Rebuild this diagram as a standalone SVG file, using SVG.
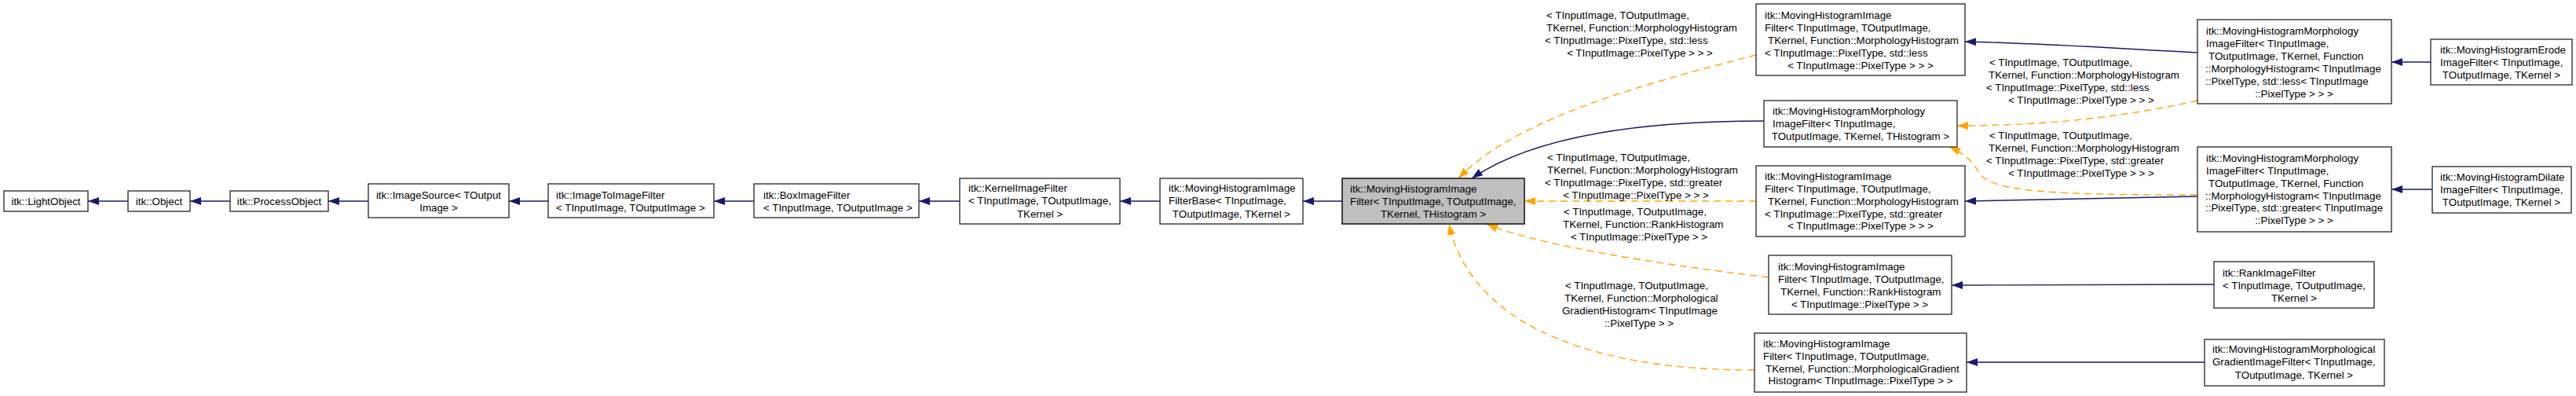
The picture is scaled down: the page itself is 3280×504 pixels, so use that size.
<svg xmlns="http://www.w3.org/2000/svg" width="3280" height="504" viewBox="0 0 3280 504">
<style>
text{font-family:"Liberation Sans",Arial,sans-serif;font-size:13.33px;fill:#000}
.m{text-anchor:middle}
.node rect{fill:#fff;stroke:#333;stroke-width:1.4}
.node.cur rect{fill:#bfbfbf;stroke:#000}
.inh{fill:none;stroke:#191970;stroke-width:1.4;marker-end:url(#ab)}
.tpl{fill:none;stroke:#ffa500;stroke-width:1.4;stroke-dasharray:9,6;marker-end:url(#ao)}
</style>
<defs>
<marker id="ab" markerUnits="userSpaceOnUse" markerWidth="14" markerHeight="10" refX="14" refY="5" orient="auto"><path d="M0,0 L14,5 L0,10 z" fill="#191970"/></marker>
<marker id="ao" markerUnits="userSpaceOnUse" markerWidth="14" markerHeight="10" refX="14" refY="5" orient="auto"><path d="M0,0 L14,5 L0,10 z" fill="#ffa500"/></marker>
</defs>
<rect width="3280" height="504" fill="#fff"/>
<g id="connectors">
<path class="inh" d="M163,256 L112,256"/>
<path class="inh" d="M293,256 L242,256"/>
<path class="inh" d="M469,256 L418,256"/>
<path class="inh" d="M698,256 L648,256"/>
<path class="inh" d="M960,256 L909,256"/>
<path class="inh" d="M1222,256 L1170,256"/>
<path class="inh" d="M1477,256 L1426,256"/>
<path class="inh" d="M1709,256 L1659,256"/>
<path class="inh" d="M2246,154 C2110,154 1960,168 1874,227"/>
<path class="tpl" d="M2236,70 C2100,105 1930,150 1857,227"/>
<path class="tpl" d="M2236,256 L1941,256"/>
<path class="tpl" d="M2252,353 C2100,335 1950,310 1893,285"/>
<path class="tpl" d="M2234,471 C2000,471 1870,400 1845,285"/>
<path class="inh" d="M2798,67 C2700,62 2600,55 2502,53"/>
<path class="tpl" d="M2798,128 C2700,150 2600,160 2492,160"/>
<path class="tpl" d="M2798,248 C2620,248 2535,245 2520,220 C2512,205 2500,195 2482,187"/>
<path class="inh" d="M2798,250 L2502,256"/>
<path class="inh" d="M2819,362 L2485,363"/>
<path class="inh" d="M2807,461 L2504,461"/>
<path class="inh" d="M3095,79 L3045,79"/>
<path class="inh" d="M3097,241 L3045,241"/>
</g>
<g id="edge-labels">
<text x="1969" y="23.5">&lt; TInputImage, TOutputImage,</text>
<text x="1969" y="39.5">TKernel, Function::MorphologyHistogram</text>
<text x="1967" y="55.5">&lt; TInputImage::PixelType, std::less</text>
<text x="2088" y="71.5" class="m">&lt; TInputImage::PixelType &gt; &gt; &gt;</text>
<text x="1970" y="204.5">&lt; TInputImage, TOutputImage,</text>
<text x="1970" y="220.5">TKernel, Function::MorphologyHistogram</text>
<text x="1967" y="236.5">&lt; TInputImage::PixelType, std::greater</text>
<text x="2083" y="252.5" class="m">&lt; TInputImage::PixelType &gt; &gt; &gt;</text>
<text x="1991" y="273.5">&lt; TInputImage, TOutputImage,</text>
<text x="1990" y="289.5">TKernel, Function::RankHistogram</text>
<text x="2087" y="305.5" class="m">&lt; TInputImage::PixelType &gt; &gt;</text>
<text x="1993" y="367.5">&lt; TInputImage, TOutputImage,</text>
<text x="1992" y="383.5">TKernel, Function::Morphological</text>
<text x="1989" y="399.5">GradientHistogram&lt; TInputImage</text>
<text x="2087" y="415.5" class="m">::PixelType &gt; &gt;</text>
<text x="2533" y="83.5">&lt; TInputImage, TOutputImage,</text>
<text x="2532" y="99.5">TKernel, Function::MorphologyHistogram</text>
<text x="2529" y="115.5">&lt; TInputImage::PixelType, std::less</text>
<text x="2650" y="131.5" class="m">&lt; TInputImage::PixelType &gt; &gt; &gt;</text>
<text x="2533" y="176.5">&lt; TInputImage, TOutputImage,</text>
<text x="2532" y="192.5">TKernel, Function::MorphologyHistogram</text>
<text x="2529" y="208.5">&lt; TInputImage::PixelType, std::greater</text>
<text x="2650" y="224.5" class="m">&lt; TInputImage::PixelType &gt; &gt; &gt;</text>
</g>
<g id="n_lightobject" class="node"><rect x="5" y="243" width="107" height="26"/><text x="58.5" y="260.5" class="m">itk::LightObject</text></g>
<g id="n_object" class="node"><rect x="163" y="243" width="79" height="26"/><text x="202.5" y="260.5" class="m">itk::Object</text></g>
<g id="n_processobject" class="node"><rect x="293" y="243" width="125" height="26"/><text x="355.5" y="260.5" class="m">itk::ProcessObject</text></g>
<g id="n_imagesource" class="node"><rect x="469" y="234" width="179" height="43"/><text x="558.5" y="252.5" class="m">itk::ImageSource&lt; TOutput</text><text x="558.5" y="268.5" class="m">Image &gt;</text></g>
<g id="n_imagetoimage" class="node"><rect x="698" y="234" width="211" height="43"/><text x="708" y="252.5">itk::ImageToImageFilter</text><text x="708" y="268.5">&lt; TInputImage, TOutputImage &gt;</text></g>
<g id="n_box" class="node"><rect x="960" y="234" width="210" height="43"/><text x="972" y="252.5">itk::BoxImageFilter</text><text x="972" y="268.5">&lt; TInputImage, TOutputImage &gt;</text></g>
<g id="n_kernel" class="node"><rect x="1222" y="227" width="204" height="58"/><text x="1233" y="243.5">itk::KernelImageFilter</text><text x="1233" y="260">&lt; TInputImage, TOutputImage,</text><text x="1324" y="276.5" class="m">TKernel &gt;</text></g>
<g id="n_mhifbase" class="node"><rect x="1477" y="227" width="182" height="58"/><text x="1488" y="243.5">itk::MovingHistogramImage</text><text x="1488" y="260">FilterBase&lt; TInputImage,</text><text x="1568" y="276.5" class="m">TOutputImage, TKernel &gt;</text></g>
<g id="n_mhif" class="node cur"><rect x="1709" y="227" width="232" height="58"/><text x="1719" y="244.5">itk::MovingHistogramImage</text><text x="1719" y="260.5">Filter&lt; TInputImage, TOutputImage,</text><text x="1825" y="276.5" class="m">TKernel, THistogram &gt;</text></g>
<g id="n_mhif_less" class="node"><rect x="2236" y="5" width="266" height="91"/><text x="2247" y="23.5">itk::MovingHistogramImage</text><text x="2247" y="39.5">Filter&lt; TInputImage, TOutputImage,</text><text x="2251" y="55.5">TKernel, Function::MorphologyHistogram</text><text x="2247" y="71.5">&lt; TInputImage::PixelType, std::less</text><text x="2369" y="87.5" class="m">&lt; TInputImage::PixelType &gt; &gt; &gt;</text></g>
<g id="n_morph" class="node"><rect x="2246" y="128" width="246" height="59"/><text x="2257" y="145.5">itk::MovingHistogramMorphology</text><text x="2257" y="161.5">ImageFilter&lt; TInputImage,</text><text x="2369" y="177.5" class="m">TOutputImage, TKernel, THistogram &gt;</text></g>
<g id="n_mhif_greater" class="node"><rect x="2236" y="211" width="266" height="90"/><text x="2247" y="228.5">itk::MovingHistogramImage</text><text x="2247" y="244.5">Filter&lt; TInputImage, TOutputImage,</text><text x="2251" y="260.5">TKernel, Function::MorphologyHistogram</text><text x="2247" y="276.5">&lt; TInputImage::PixelType, std::greater</text><text x="2369" y="291.5" class="m">&lt; TInputImage::PixelType &gt; &gt; &gt;</text></g>
<g id="n_mhif_rank" class="node"><rect x="2252" y="325" width="233" height="75"/><text x="2264" y="343.5">itk::MovingHistogramImage</text><text x="2264" y="359.5">Filter&lt; TInputImage, TOutputImage,</text><text x="2267" y="375.5">TKernel, Function::RankHistogram</text><text x="2368" y="391.5" class="m">&lt; TInputImage::PixelType &gt; &gt;</text></g>
<g id="n_mhif_grad" class="node"><rect x="2234" y="424" width="270" height="75"/><text x="2245" y="441.5">itk::MovingHistogramImage</text><text x="2245" y="457.5">Filter&lt; TInputImage, TOutputImage,</text><text x="2248" y="473.5">TKernel, Function::MorphologicalGradient</text><text x="2369" y="488.5" class="m">Histogram&lt; TInputImage::PixelType &gt; &gt;</text></g>
<g id="n_morph_less" class="node"><rect x="2798" y="25" width="247" height="107"/><text x="2809" y="43.5">itk::MovingHistogramMorphology</text><text x="2809" y="59.5">ImageFilter&lt; TInputImage,</text><text x="2812" y="75.5">TOutputImage, TKernel, Function</text><text x="2808" y="91.5">::MorphologyHistogram&lt; TInputImage</text><text x="2808" y="107.5">::PixelType, std::less&lt; TInputImage</text><text x="2921" y="123.5" class="m">::PixelType &gt; &gt; &gt;</text></g>
<g id="n_morph_greater" class="node"><rect x="2798" y="187" width="247" height="108"/><text x="2809" y="205.5">itk::MovingHistogramMorphology</text><text x="2809" y="221.5">ImageFilter&lt; TInputImage,</text><text x="2812" y="237.5">TOutputImage, TKernel, Function</text><text x="2808" y="253.5">::MorphologyHistogram&lt; TInputImage</text><text x="2808" y="268.5">::PixelType, std::greater&lt; TInputImage</text><text x="2921" y="284.5" class="m">::PixelType &gt; &gt; &gt;</text></g>
<g id="n_rankfilter" class="node"><rect x="2819" y="333" width="204" height="59"/><text x="2830" y="351.5">itk::RankImageFilter</text><text x="2830" y="367.5">&lt; TInputImage, TOutputImage,</text><text x="2921" y="383.5" class="m">TKernel &gt;</text></g>
<g id="n_gradfilter" class="node"><rect x="2807" y="432" width="229" height="59"/><text x="2817" y="448.5">itk::MovingHistogramMorphological</text><text x="2817" y="464.5">GradientImageFilter&lt; TInputImage,</text><text x="2921" y="481.5" class="m">TOutputImage, TKernel &gt;</text></g>
<g id="n_erode" class="node"><rect x="3095" y="50" width="180" height="58"/><text x="3107" y="67.5">itk::MovingHistogramErode</text><text x="3107" y="83.5">ImageFilter&lt; TInputImage,</text><text x="3185" y="99.5" class="m">TOutputImage, TKernel &gt;</text></g>
<g id="n_dilate" class="node"><rect x="3097" y="212" width="177" height="59"/><text x="3107" y="229.5">itk::MovingHistogramDilate</text><text x="3107" y="245.5">ImageFilter&lt; TInputImage,</text><text x="3185" y="261.5" class="m">TOutputImage, TKernel &gt;</text></g>
</svg>
